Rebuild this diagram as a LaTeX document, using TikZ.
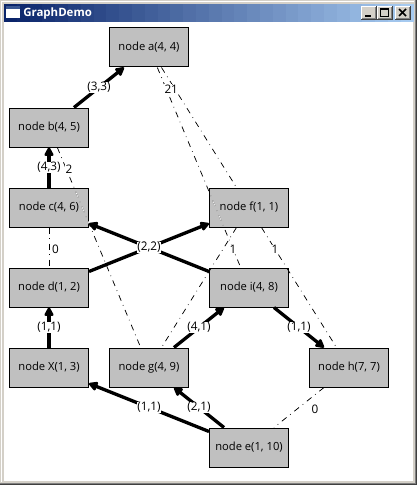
\documentclass[tikz,border=0pt]{standalone}
\usepackage{fontspec}
\setmainfont{Open Sans}
\usetikzlibrary{arrows.meta}
\definecolor{winface}{RGB}{212,208,200}
\definecolor{winshadow}{RGB}{128,128,128}
\definecolor{windark}{RGB}{64,64,64}
\definecolor{titleA}{RGB}{10,36,106}
\definecolor{titleB}{RGB}{166,202,240}
\definecolor{boxgray}{RGB}{192,192,192}
\tikzset{
  x=0.75pt,y=-0.75pt,
  vertex/.style={draw=black,line width=0.75pt,fill=boxgray,minimum width=59.25pt,minimum height=29.25pt,inner sep=0pt,font=\fontsize{8.4pt}{9pt}\selectfont,text=black},
  heavy/.style={line width=2.5pt,-{Triangle[length=7.5pt,width=7.5pt,round]}},
  dd/.style={line width=0.55pt,dash pattern=on 4.5pt off 3.5pt on 0.5pt off 3.5pt},
  elabel/.style={fill=white,inner xsep=0.6pt,inner ysep=0.6pt,font=\fontsize{8.8pt}{9pt}\selectfont},
  wlabel/.style={fill=white,inner sep=0.2pt,font=\fontsize{8.8pt}{9pt}\selectfont},
  glyph/.style={line width=0.75pt,black}
}
\begin{document}
\begin{tikzpicture}
\useasboundingbox (0,0) rectangle (417,485);
% window frame
\fill[windark] (0,0) rectangle (417,485);
\fill[winshadow] (0,0) rectangle (416,484);
\fill[winface] (0,0) rectangle (415,483);
\fill[white] (1,1) rectangle (414,2);
\fill[white] (1,1) rectangle (2,482);
\fill[white] (4,22) rectangle (413,481);
% title bar bands
\foreach \i in {0,...,31}{
  \pgfmathsetmacro{\pct}{100-\i*100/31}
  \pgfmathsetmacro{\xa}{4+\i*12.8}
  \pgfmathsetmacro{\xb}{\xa+13}
  \fill[titleA!\pct!titleB] (\xa,4) rectangle (\xb,22);
}
% title icon
\fill[white] (6,6) rectangle (20,18);
\fill[titleA!70!titleB] (6,6) rectangle (20,9);
\node[anchor=base west,inner sep=0pt,text=white,font=\fontsize{8.6pt}{9pt}\selectfont\bfseries] (wintitle) at (23,17) {GraphDemo};
% buttons
\foreach \xa in {361,377,395}{
  \pgfmathsetmacro{\xb}{\xa+15.5}
  \fill[windark] (\xa,6) rectangle (\xb,20);
  \fill[white] (\xa,6) rectangle (\xb-1,19);
  \fill[winshadow] (\xa+1,7) rectangle (\xb-1,19);
  \fill[winface] (\xa+1,7) rectangle (\xb-2,18);
}
\fill[black] (365,15) rectangle (371,17);
\draw[glyph] (380.5,9.5) rectangle (388.5,16.5);
\fill[black] (380,8.5) rectangle (389,10.5);
\draw[line width=1.2pt,black] (399,9) -- (406,16);
\draw[line width=1.2pt,black] (406,9) -- (399,16);
% nodes
\node[vertex] (a) at (149,47.5) {node a(4, 4)};
\node[vertex] (b) at (49,127.5) {node b(4, 5)};
\node[vertex] (c) at (49,207.5) {node c(4, 6)};
\node[vertex] (d) at (49,287.5) {node d(1, 2)};
\node[vertex] (x) at (49,367.5) {node X(1, 3)};
\node[vertex] (g) at (149,367.5) {node g(4, 9)};
\node[vertex] (h) at (349,367.5) {node h(7, 7)};
\node[vertex] (i) at (249,287.5) {node i(4, 8)};
\node[vertex] (f) at (249,207.5) {node f(1, 1)};
\node[vertex] (e) at (249,447.5) {node e(1, 10)};
% dash-dot edges
\draw[dd] (a) -- (i);
\draw[dd] (a) -- (f);
\draw[dd] (b) -- (g);
\draw[dd] (c) -- (d);
\draw[dd] (f) -- (g);
\draw[dd] (f) -- (h);
\draw[dd] (h) -- (e);
% the dash-dot lines invert to white over a box they cross
\begin{scope}
  \clip (f.south west) rectangle (f.north east);
  \draw[dd,white] (a) -- (i);
\end{scope}
\begin{scope}
  \clip (c.south west) rectangle (c.north east);
  \draw[dd,white] (b) -- (g);
\end{scope}
% dash-dot edge weights
\node[wlabel] (la) at (168,89) {2};
\node[wlabel] (lb) at (174.5,89) {1};
\node[wlabel] (lc) at (69,169) {2};
\node[wlabel] (ld) at (55.5,249) {0};
\node[wlabel] (le) at (233,249) {1};
\node[wlabel] (lf) at (275,249) {1};
\node[wlabel] (lg) at (315,409) {0};
% heavy edges
\draw[heavy] (b) -- node[elabel] (m1) {(3,3)} (a);
\draw[heavy] (c) -- node[elabel] (m2) {(4,3)} (b);
\draw[heavy] (x) -- node[elabel] (m3) {(1,1)} (d);
\draw[heavy] (d) -- node[elabel] (m4) {(2,2)} (f);
\draw[heavy] (i) -- node[elabel] (m5) {(2,2)} (c);
\draw[heavy] (g) -- node[elabel] (m6) {(4,1)} (i);
\draw[heavy] (i) -- node[elabel] (m7) {(1,1)} (h);
\draw[heavy] (e) -- node[elabel] (m8) {(1,1)} (x);
\draw[heavy] (e) -- node[elabel] (m9) {(2,1)} (g);
\end{tikzpicture}
\end{document}
